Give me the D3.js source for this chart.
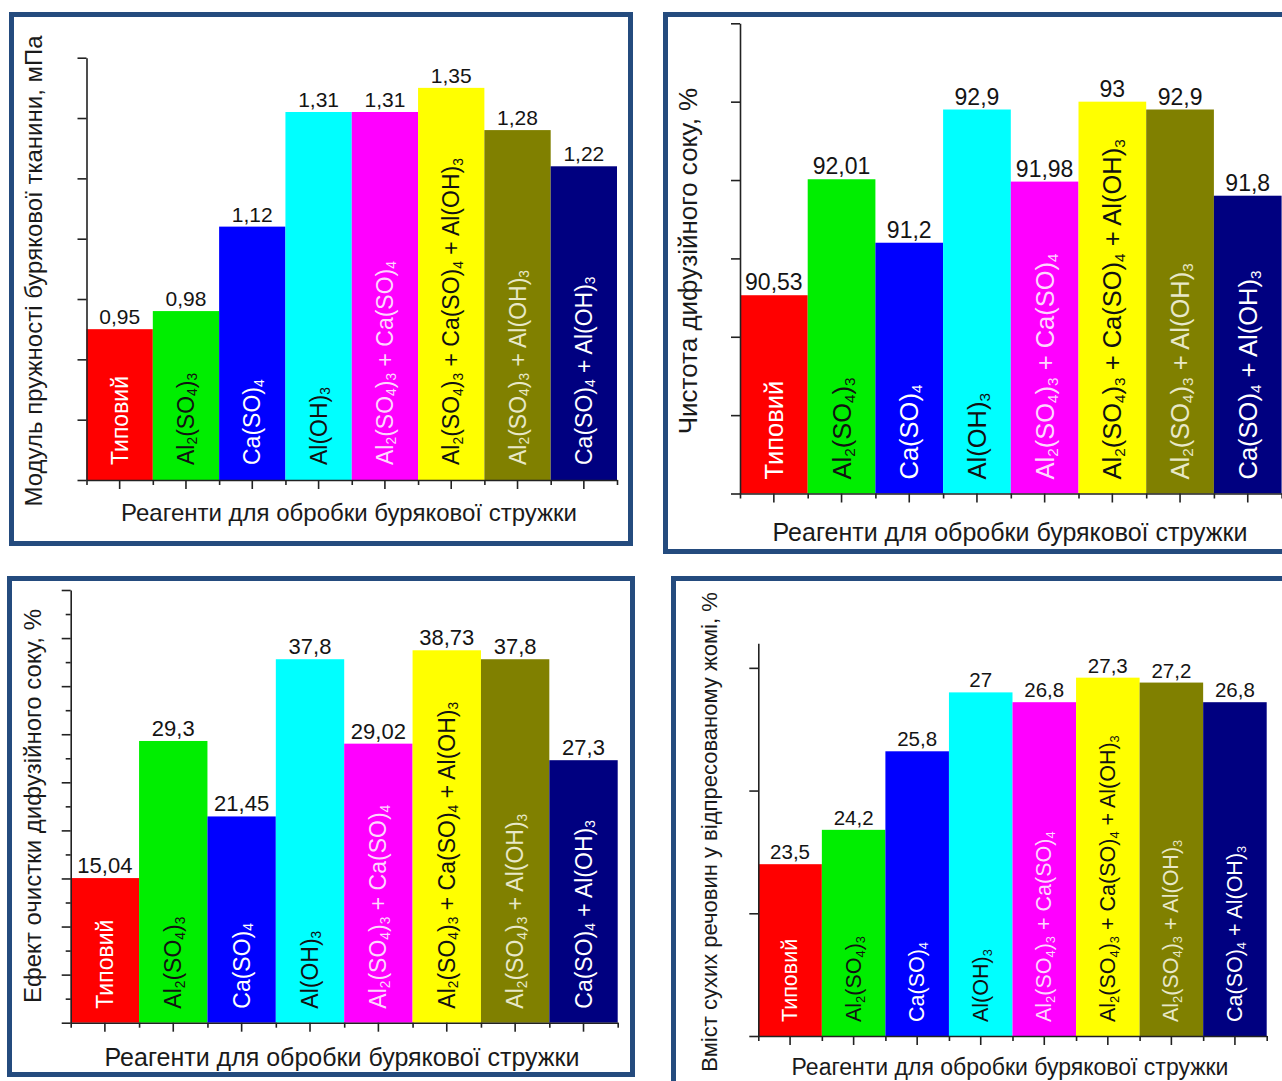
<!DOCTYPE html>
<html>
<head>
<meta charset="utf-8">
<script src="https://cdn.jsdelivr.net/npm/d3@7/dist/d3.min.js"></script>
<style>
  html, body { margin: 0; padding: 0; background: #ffffff; }
  svg { display: block; font-family: "Liberation Sans", Arial, sans-serif; }
</style>
</head>
<body>
<svg id="chart" width="1282" height="1081"></svg>
<script>
// Treatments of beet cossettes (shared by all four panels)
const categories = [
  "Типовий",
  "Al₂(SO₄)₃",
  "Ca(SO)₄",
  "Al(OH)₃",
  "Al₂(SO₄)₃ + Ca(SO)₄",
  "Al₂(SO₄)₃ + Ca(SO)₄ + Al(OH)₃",
  "Al₂(SO₄)₃ + Al(OH)₃",
  "Ca(SO)₄ + Al(OH)₃"
];
const barColors = ["#ff0000", "#00ee00", "#0000ff", "#00ffff", "#ff00ff", "#ffff00", "#808000", "#000080"];
const labelColors = ["#ffffff", "#111111", "#ffffff", "#111111", "#ffd6ff", "#111111", "#e8e8c8", "#ffffff"];

// Measured values
const elasticity = [0.95, 0.98, 1.12, 1.31, 1.31, 1.35, 1.28, 1.22];
const purity = [90.53, 92.01, 91.2, 92.9, 91.98, 93, 92.9, 91.8];
const cleaning = [15.04, 29.3, 21.45, 37.8, 29.02, 38.73, 37.8, 27.3];
const dryMatter = [23.5, 24.2, 25.8, 27, 26.8, 27.3, 27.2, 26.8];

// Axis titles
const xTitle = "Реагенти для обробки бурякової стружки";
const yTitles = [
  "Модуль пружності бурякової тканини, мПа",
  "Чистота дифузійного соку, %",
  "Ефект очистки дифузійного соку, %",
  "Вміст сухих речовин у відпресованому жомі, %"
];

// Y-axis domains and tick values
const elasticityDomain = [0.7, 1.4];
const elasticityTicks = [0.7, 0.8, 0.9, 1.0, 1.1, 1.2, 1.3, 1.4];
const purityDomain = [88, 94];
const purityTicks = [88, 89, 90, 91, 92, 93, 94];
const cleaningDomain = [0, 45];
const cleaningMajorTicks = [0, 5, 10, 15, 20, 25, 30, 35, 40, 45];
const cleaningMinorTicks = [2.5, 7.5, 12.5, 17.5, 22.5, 27.5, 32.5, 37.5, 42.5];
const dryDomain = [20, 28];
const dryTicks = [20, 22.5, 25, 27.5];

const svg = d3.select("#chart");
const frameColor = "#244b7e";
const axisColor = "#222222";

function fmt(v) { return String(v).replace(".", ","); }

// Writes a formula label with subscript digits as smaller, lowered tspans
function richText(textSel, label, fs) {
  const parts = label.match(/[₀-₉]+|[^₀-₉]+/g);
  const shift = fs * 0.28;
  let lowered = false;
  parts.forEach(p => {
    const isSub = /[₀-₉]/.test(p);
    const t = textSel.append("tspan");
    if (isSub) {
      t.attr("font-size", fs * 0.6).attr("dy", lowered ? 0 : shift)
        .text(p.replace(/[₀-₉]/g, c => String(c.charCodeAt(0) - 0x2080)));
      lowered = true;
    } else {
      t.attr("font-size", fs).attr("dy", lowered ? -shift : 0).text(p);
      lowered = false;
    }
  });
}

function drawPanel(cfg) {
  const g = svg.append("g");

  // frame
  g.append("rect")
    .attr("x", cfg.frame.x + 2.5).attr("y", cfg.frame.y + 2.5)
    .attr("width", cfg.frame.w - 5).attr("height", cfg.frame.h - 5)
    .attr("fill", "none").attr("stroke", frameColor).attr("stroke-width", 5);

  const x = d3.scaleBand().domain(categories).range([cfg.left, cfg.right]).padding(0);
  const xIdx = d3.scaleLinear().domain([0, categories.length]).range([cfg.left, cfg.right]);
  const y = d3.scaleLinear().domain(cfg.domain).range([cfg.bottom, cfg.top]);

  // bars
  g.selectAll("rect.bar").data(cfg.values).join("rect")
    .attr("class", "bar")
    .attr("x", (d, i) => x(categories[i]))
    .attr("width", x.bandwidth())
    .attr("y", d => y(d))
    .attr("height", d => y(cfg.domain[0]) - y(d))
    .attr("fill", (d, i) => barColors[i]);

  // value labels above the bars
  g.selectAll("text.val").data(cfg.values).join("text")
    .attr("class", "val")
    .attr("x", (d, i) => x(categories[i]) + x.bandwidth() / 2)
    .attr("y", d => y(d) - 5)
    .attr("text-anchor", "middle")
    .attr("font-size", cfg.valueFont)
    .attr("fill", "#141414")
    .text(d => fmt(d));

  // treatment names written upward inside the bars
  categories.forEach((c, i) => {
    const cx = x(c) + x.bandwidth() / 2;
    const cy = cfg.bottom - cfg.labelGap;
    const t = g.append("text")
      .attr("transform", `translate(${cx},${cy}) rotate(-90)`)
      .attr("text-anchor", "start")
      .attr("dominant-baseline", "central")
      .attr("fill", labelColors[i]);
    richText(t, c, cfg.labelFont);
  });

  // y axis (no numbers, outward ticks)
  const yAxisG = g.append("g").attr("transform", `translate(${cfg.left},0)`);
  yAxisG.call(d3.axisLeft(y).tickValues(cfg.ticks).tickSize(cfg.tickLen).tickSizeOuter(0).tickFormat(""));
  if (cfg.minorTicks) {
    g.append("g").attr("transform", `translate(${cfg.left},0)`)
      .call(d3.axisLeft(y).tickValues(cfg.minorTicks).tickSize(5).tickSizeOuter(0).tickFormat(""))
      .select(".domain").remove();
  }

  // x axis: long ticks at bar centres, short ticks at bar edges
  const xAxisG = g.append("g").attr("transform", `translate(0,${cfg.bottom})`);
  xAxisG.call(d3.axisBottom(x).tickSize(9).tickSizeOuter(0).tickFormat(""));
  g.append("g").attr("transform", `translate(0,${cfg.bottom})`)
    .call(d3.axisBottom(xIdx).tickValues(d3.range(0, categories.length + 1)).tickSize(5).tickSizeOuter(0).tickFormat(""))
    .select(".domain").remove();

  g.selectAll(".domain, .tick line").attr("stroke", axisColor).attr("stroke-width", 1.6);

  // axis titles
  g.append("text")
    .attr("x", cfg.xTitle.x).attr("y", cfg.xTitle.y)
    .attr("text-anchor", "middle")
    .attr("font-size", cfg.titleFont)
    .attr("fill", "#1a1a1a")
    .text(xTitle);

  g.append("text")
    .attr("transform", `translate(${cfg.yTitle.x},${cfg.yTitle.y}) rotate(-90)`)
    .attr("text-anchor", "middle")
    .attr("dominant-baseline", "central")
    .attr("font-size", cfg.yTitleFont)
    .attr("fill", "#1a1a1a")
    .text(cfg.yTitleText);
}

drawPanel({
  frame: { x: 9, y: 12, w: 624, h: 534 },
  left: 86.5, right: 617, top: 57.7, bottom: 480,
  domain: elasticityDomain, ticks: elasticityTicks, tickLen: 9,
  values: elasticity,
  valueFont: 21, labelFont: 23, labelGap: 15, titleFont: 24, yTitleFont: 24,
  xTitle: { x: 349, y: 521 },
  yTitle: { x: 33, y: 271 },
  yTitleText: yTitles[0]
});

drawPanel({
  frame: { x: 663, y: 12, w: 640, h: 542 },
  left: 740, right: 1281.6, top: 23.3, bottom: 493.5,
  domain: purityDomain, ticks: purityTicks, tickLen: 9,
  values: purity,
  valueFont: 23, labelFont: 25.5, labelGap: 14, titleFont: 25, yTitleFont: 26,
  xTitle: { x: 1010, y: 541 },
  yTitle: { x: 688, y: 261 },
  yTitleText: yTitles[1]
});

drawPanel({
  frame: { x: 7, y: 576, w: 628, h: 501 },
  left: 70.7, right: 617.7, top: 590, bottom: 1022.7,
  domain: cleaningDomain, ticks: cleaningMajorTicks, minorTicks: cleaningMinorTicks, tickLen: 9,
  values: cleaning,
  valueFont: 22, labelFont: 23, labelGap: 14, titleFont: 25, yTitleFont: 24,
  xTitle: { x: 342, y: 1066 },
  yTitle: { x: 32, y: 806 },
  yTitleText: yTitles[2]
});

drawPanel({
  frame: { x: 671, y: 576, w: 640, h: 520 },
  left: 758.3, right: 1266.7, top: 643.3, bottom: 1036,
  domain: dryDomain, ticks: dryTicks, tickLen: 9,
  values: dryMatter,
  valueFont: 20.5, labelFont: 21.5, labelGap: 14, titleFont: 23, yTitleFont: 22,
  xTitle: { x: 1010, y: 1075 },
  yTitle: { x: 709, y: 832 },
  yTitleText: yTitles[3]
});
</script>
</body>
</html>
